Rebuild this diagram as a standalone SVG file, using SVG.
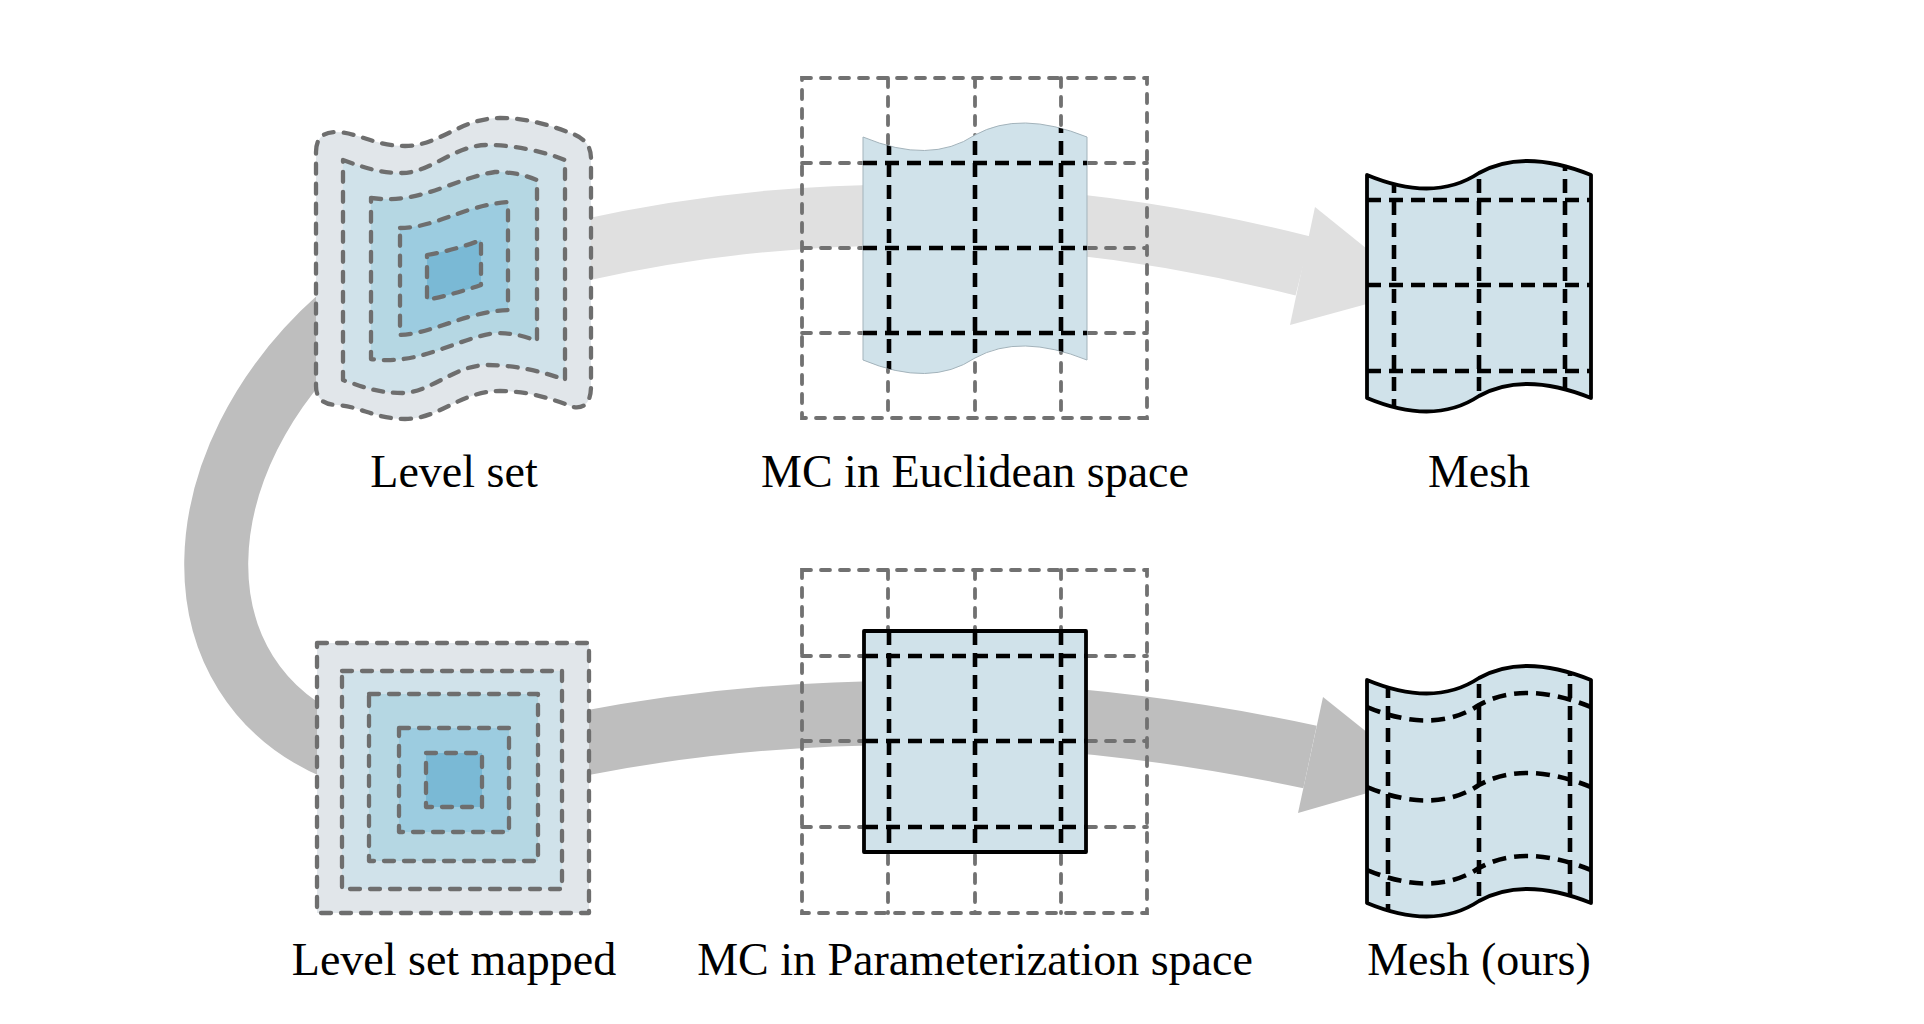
<svg xmlns="http://www.w3.org/2000/svg" xmlns:xlink="http://www.w3.org/1999/xlink" width="1924" height="1024" viewBox="0 0 1924 1024">
<style>
.lvl{stroke:#6e6e6e;stroke-width:4.3;stroke-dasharray:10 10;stroke-linecap:round;stroke-linejoin:round}
.grid{fill:none;stroke:#717171;stroke-width:3.8;stroke-dasharray:9 10;stroke-linecap:round}
.blk{fill:none;stroke:#000;stroke-width:4.6;stroke-dasharray:14 8}
.edge{fill:#d0e2ea;stroke:#000;stroke-width:3.8;stroke-linejoin:round}
.sheet{fill:#d0e2ea;stroke:#a3b3bb;stroke-width:1}
.lbl{font-family:"Liberation Serif","Times New Roman",serif;font-size:46px;text-anchor:middle;fill:#000}
.c1{fill:#e1e6ea}.c2{fill:#d0e2ea}.c3{fill:#b5d7e3}.c4{fill:#9ccce0}.c5{fill:#7ab9d5}
</style>
<defs>
<path id="wave" d="M0,0 Q67,28 112,-2 Q157,-27 224,0 L224,223 Q157,196 112,221 Q67,251 0,223 Z"/>
<clipPath id="wclip"><path d="M0,0 Q67,28 112,-2 Q157,-27 224,0 L224,223 Q157,196 112,221 Q67,251 0,223 Z"/></clipPath>
</defs>
<rect width="1924" height="1024" fill="#fff"/>
<g id="connectors">
<path d="M340,318 C180,460 170,680 340,750" stroke="#bebebe" stroke-width="64" fill="none"/>
<path d="M580,251 Q930,172 1303,266" stroke="#e0e0e0" stroke-width="61" fill="none"/>
<polygon points="1315,207 1418,290 1290,325" fill="#e0e0e0"/>
<path d="M580,744 Q930,676 1310,757" stroke="#bebebe" stroke-width="64" fill="none"/>
<polygon points="1323,697 1423,777 1298,813" fill="#bebebe"/>
</g>
<g id="level-set">
<path class="lvl c1" d="M316,152 Q316,132 336,132 C360,133 375,146 405,146 C440,146 460,118 500,118 C530,118 555,127 573,134 Q591,141 591,158 L591,386 Q591,410 573,407 C555,400 530,391 500,391 C460,391 440,419 405,419 C375,419 360,406 336,405 Q316,404 316,386 Z"/>
<path class="lvl c2" d="M343,160 C365,168 380,173 402,173 C430,173 455,145 487,145 C515,145 545,152 565,160 L565,380 C545,372 515,365 487,365 C455,365 430,393 402,393 C380,393 365,388 343,380 Z"/>
<path class="lvl c3" d="M371,198 C420,205 455,178 495,172 C515,172 527,176 537,180 L537,341 C527,337 515,333 495,333 C455,339 420,366 371,359 Z"/>
<path class="lvl c4" d="M400,228 C435,228 465,205 508,202 L508,310 C465,312 435,333 400,335 Z"/>
<path class="lvl c5" d="M427,255 Q455,250 481,240 L481,285 Q455,294 427,300 Z"/>
<text class="lbl" x="454" y="487">Level set</text>
</g>
<g id="mc-euclidean">
<path class="grid" d="M802,78 H1147 V418 H802 Z M888,78 V418 M975,78 V418 M1061,78 V418 M802,163 H1147 M802,248 H1147 M802,333 H1147"/>
<g transform="translate(863,137)">
<use xlink:href="#wave" class="sheet"/>
<g clip-path="url(#wclip)">
<path class="blk" d="M26,-40 V260 M112,-40 V260 M198,-40 V260 M0,26 H224 M0,111 H224 M0,196 H224"/>
</g>
</g>
<text class="lbl" x="975" y="487">MC in Euclidean space</text>
</g>
<g id="mesh">
<g transform="translate(1367,175)">
<use xlink:href="#wave" fill="#d0e2ea"/>
<g clip-path="url(#wclip)">
<path class="blk" d="M27,-40 V260 M112,-40 V260 M198,-40 V260 M0,25 H224 M0,110 H224 M0,196 H224"/>
</g>
<use xlink:href="#wave" fill="none" stroke="#000" stroke-width="3.8" stroke-linejoin="round"/>
</g>
<text class="lbl" x="1479" y="487">Mesh</text>
</g>
<g id="level-set-mapped">
<rect class="lvl c1" x="317" y="643" width="272" height="270"/>
<rect class="lvl c2" x="342" y="671" width="220" height="218"/>
<rect class="lvl c3" x="369" y="694" width="169" height="167"/>
<rect class="lvl c4" x="399" y="728" width="110" height="104"/>
<rect class="lvl c5" x="426" y="753" width="56" height="54"/>
<text class="lbl" x="454" y="975">Level set mapped</text>
</g>
<g id="mc-parameterization">
<path class="grid" d="M802,570 H1147 V913 H802 Z M888,570 V913 M975,570 V913 M1061,570 V913 M802,656 H1147 M802,741 H1147 M802,827 H1147"/>
<rect class="edge" x="864" y="631" width="222" height="221"/>
<path class="blk" d="M889,631 V852 M975,631 V852 M1061,631 V852 M864,656 H1086 M864,741 H1086 M864,827 H1086"/>
<text class="lbl" x="975" y="975">MC in Parameterization space</text>
</g>
<g id="mesh-ours">
<g transform="translate(1367,680)">
<use xlink:href="#wave" fill="#d0e2ea"/>
<g clip-path="url(#wclip)">
<path class="blk" d="M21,-40 V260 M112,-40 V260 M203,-40 V260"/>
<path class="blk" d="M0,27 Q67,55 112,25 Q157,0 224,27 M0,107 Q67,135 112,105 Q157,80 224,107 M0,190 Q67,218 112,188 Q157,163 224,190"/>
</g>
<use xlink:href="#wave" fill="none" stroke="#000" stroke-width="3.8" stroke-linejoin="round"/>
</g>
<text class="lbl" x="1479" y="975">Mesh (ours)</text>
</g>
</svg>
